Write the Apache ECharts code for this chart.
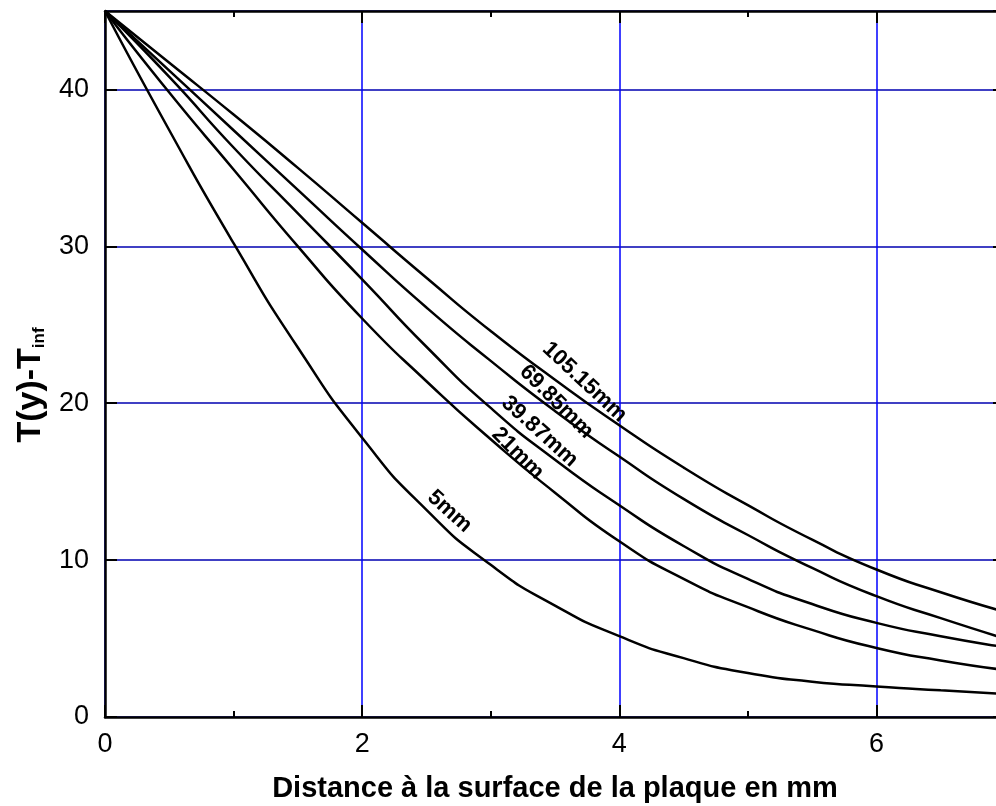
<!DOCTYPE html>
<html><head><meta charset="utf-8">
<script src="https://cdn.jsdelivr.net/npm/echarts@6/dist/echarts.min.js"></script>
<style>html,body{margin:0;padding:0;background:#fff}#c{width:996px;height:806px}</style>
</head><body><div id="c"></div>
<script>
// Distance (mm) sample positions
const distance = [0, 0.5, 1, 1.5, 2, 2.5, 3, 3.5, 4, 4.5, 5, 5.5, 6, 6.5, 7];
// T(y)-Tinf for each plate length
const curve105_15 = [45, 41.7, 38.4, 35.0, 31.5, 28.0, 24.6, 21.5, 18.6, 15.9, 13.5, 11.3, 9.4, 7.95, 6.7];
const curve69_85  = [45, 41.2, 37.4, 33.6, 29.8, 26.1, 22.7, 19.5, 16.6, 13.9, 11.6, 9.5, 7.7, 6.3, 5.0];
const curve39_87  = [45, 40.8, 36.3, 32.1, 27.9, 23.6, 19.7, 16.4, 13.5, 10.9, 8.8, 7.2, 6.0, 5.15, 4.45];
const curve21     = [45, 39.8, 34.9, 30.0, 25.4, 21.4, 17.7, 14.3, 11.2, 8.8, 7.0, 5.55, 4.4, 3.6, 3.0];
const curve5      = [45, 37.4, 30.2, 23.55, 17.8, 13.2, 9.7, 7.1, 5.15, 3.75, 2.8, 2.25, 1.95, 1.7, 1.47];
const curveNames  = ['105.15mm', '69.85mm', '39.87mm', '21mm', '5mm'];
// label anchor points (data units) and angles for in-plot curve labels
const labelAnchorX = [3.73, 3.51, 3.38, 3.21, 2.68];
const labelAnchorY = [21.35, 20.1, 18.2, 16.8, 13.1];
const labelAngle   = [-43, -45, -42, -45, -42];

const allCurves = [curve105_15, curve69_85, curve39_87, curve21, curve5];
const FONT = 'Liberation Sans, Arial, sans-serif';

const chart = echarts.init(document.getElementById('c'), null, {renderer: 'canvas'});

const axisCommon = {
  type: 'value',
  axisLine: {show: true, onZero: false, lineStyle: {color: '#000', width: 2.5}},
  axisTick: {show: true, inside: true, length: 12, lineStyle: {color: '#000', width: 2}},
  minorSplitLine: {show: false}
};
const xMinor = {show: true, splitNumber: 2, length: 6, lineStyle: {color: '#000', width: 2}};

const series = allCurves.map((vals, i) => ({
  type: 'line',
  name: curveNames[i],
  data: distance.map((x, j) => [x, vals[j]]),
  smooth: 0.6,
  showSymbol: false,
  symbol: 'none',
  clip: true,
  lineStyle: {color: '#000', width: 2.5},
  animation: false,
  z: 5,
  markPoint: {
    symbol: 'circle',
    symbolSize: 1,
    itemStyle: {color: 'rgba(0,0,0,0)'},
    animation: false,
    silent: true,
    data: [{coord: [labelAnchorX[i], labelAnchorY[i]], value: curveNames[i]}],
    label: {
      show: true,
      position: 'inside',
      formatter: curveNames[i],
      rotate: labelAngle[i],
      color: '#000',
      fontSize: 22,
      fontWeight: 'bold',
      fontFamily: FONT
    }
  }
}));

chart.setOption({
  backgroundColor: '#fff',
  animation: false,
  grid: {left: 105, top: 11, bottom: 89, width: 900, containLabel: false, outerBoundsMode: 'none'},
  xAxis: [
    Object.assign({}, axisCommon, {
      position: 'bottom', min: 0, max: 7, interval: 2,
      minorTick: xMinor,
      name: 'Distance à la surface de la plaque en mm',
      nameLocation: 'middle', nameGap: 57,
      nameTextStyle: {color: '#000', fontSize: 29, fontWeight: 'bold', fontFamily: FONT},
      axisLabel: {color: '#000', fontSize: 27, fontFamily: FONT, margin: 14, showMaxLabel: false},
      splitLine: {show: true, lineStyle: {color: '#0000FF', width: 1.5}}
    }),
    Object.assign({}, axisCommon, {
      position: 'top', min: 0, max: 7, interval: 2,
      minorTick: xMinor,
      axisLabel: {show: false},
      splitLine: {show: false}
    })
  ],
  yAxis: [
    Object.assign({}, axisCommon, {
      position: 'left', min: 0, max: 45, interval: 10,
      name: '{m|T(y)-T}{s|inf}',
      nameLocation: 'middle', nameGap: 52,
      nameTextStyle: {
        color: '#000', fontFamily: FONT, padding: [0, 42, 0, 0],
        rich: {
          m: {fontSize: 34, fontWeight: 'bold', fontFamily: FONT, color: '#000'},
          s: {fontSize: 17, fontWeight: 'bold', fontFamily: FONT, color: '#000', padding: [18, 0, 0, 0]}
        }
      },
      axisLabel: {color: '#000', fontSize: 27, fontFamily: FONT, margin: 16, showMaxLabel: false},
      splitLine: {show: true, lineStyle: {color: '#0000B0', width: 1.5}}
    }),
    Object.assign({}, axisCommon, {
      position: 'right', min: 0, max: 45, interval: 10,
      axisLabel: {show: false},
      splitLine: {show: false}
    })
  ],
  series: series
});
</script>
</body></html>
